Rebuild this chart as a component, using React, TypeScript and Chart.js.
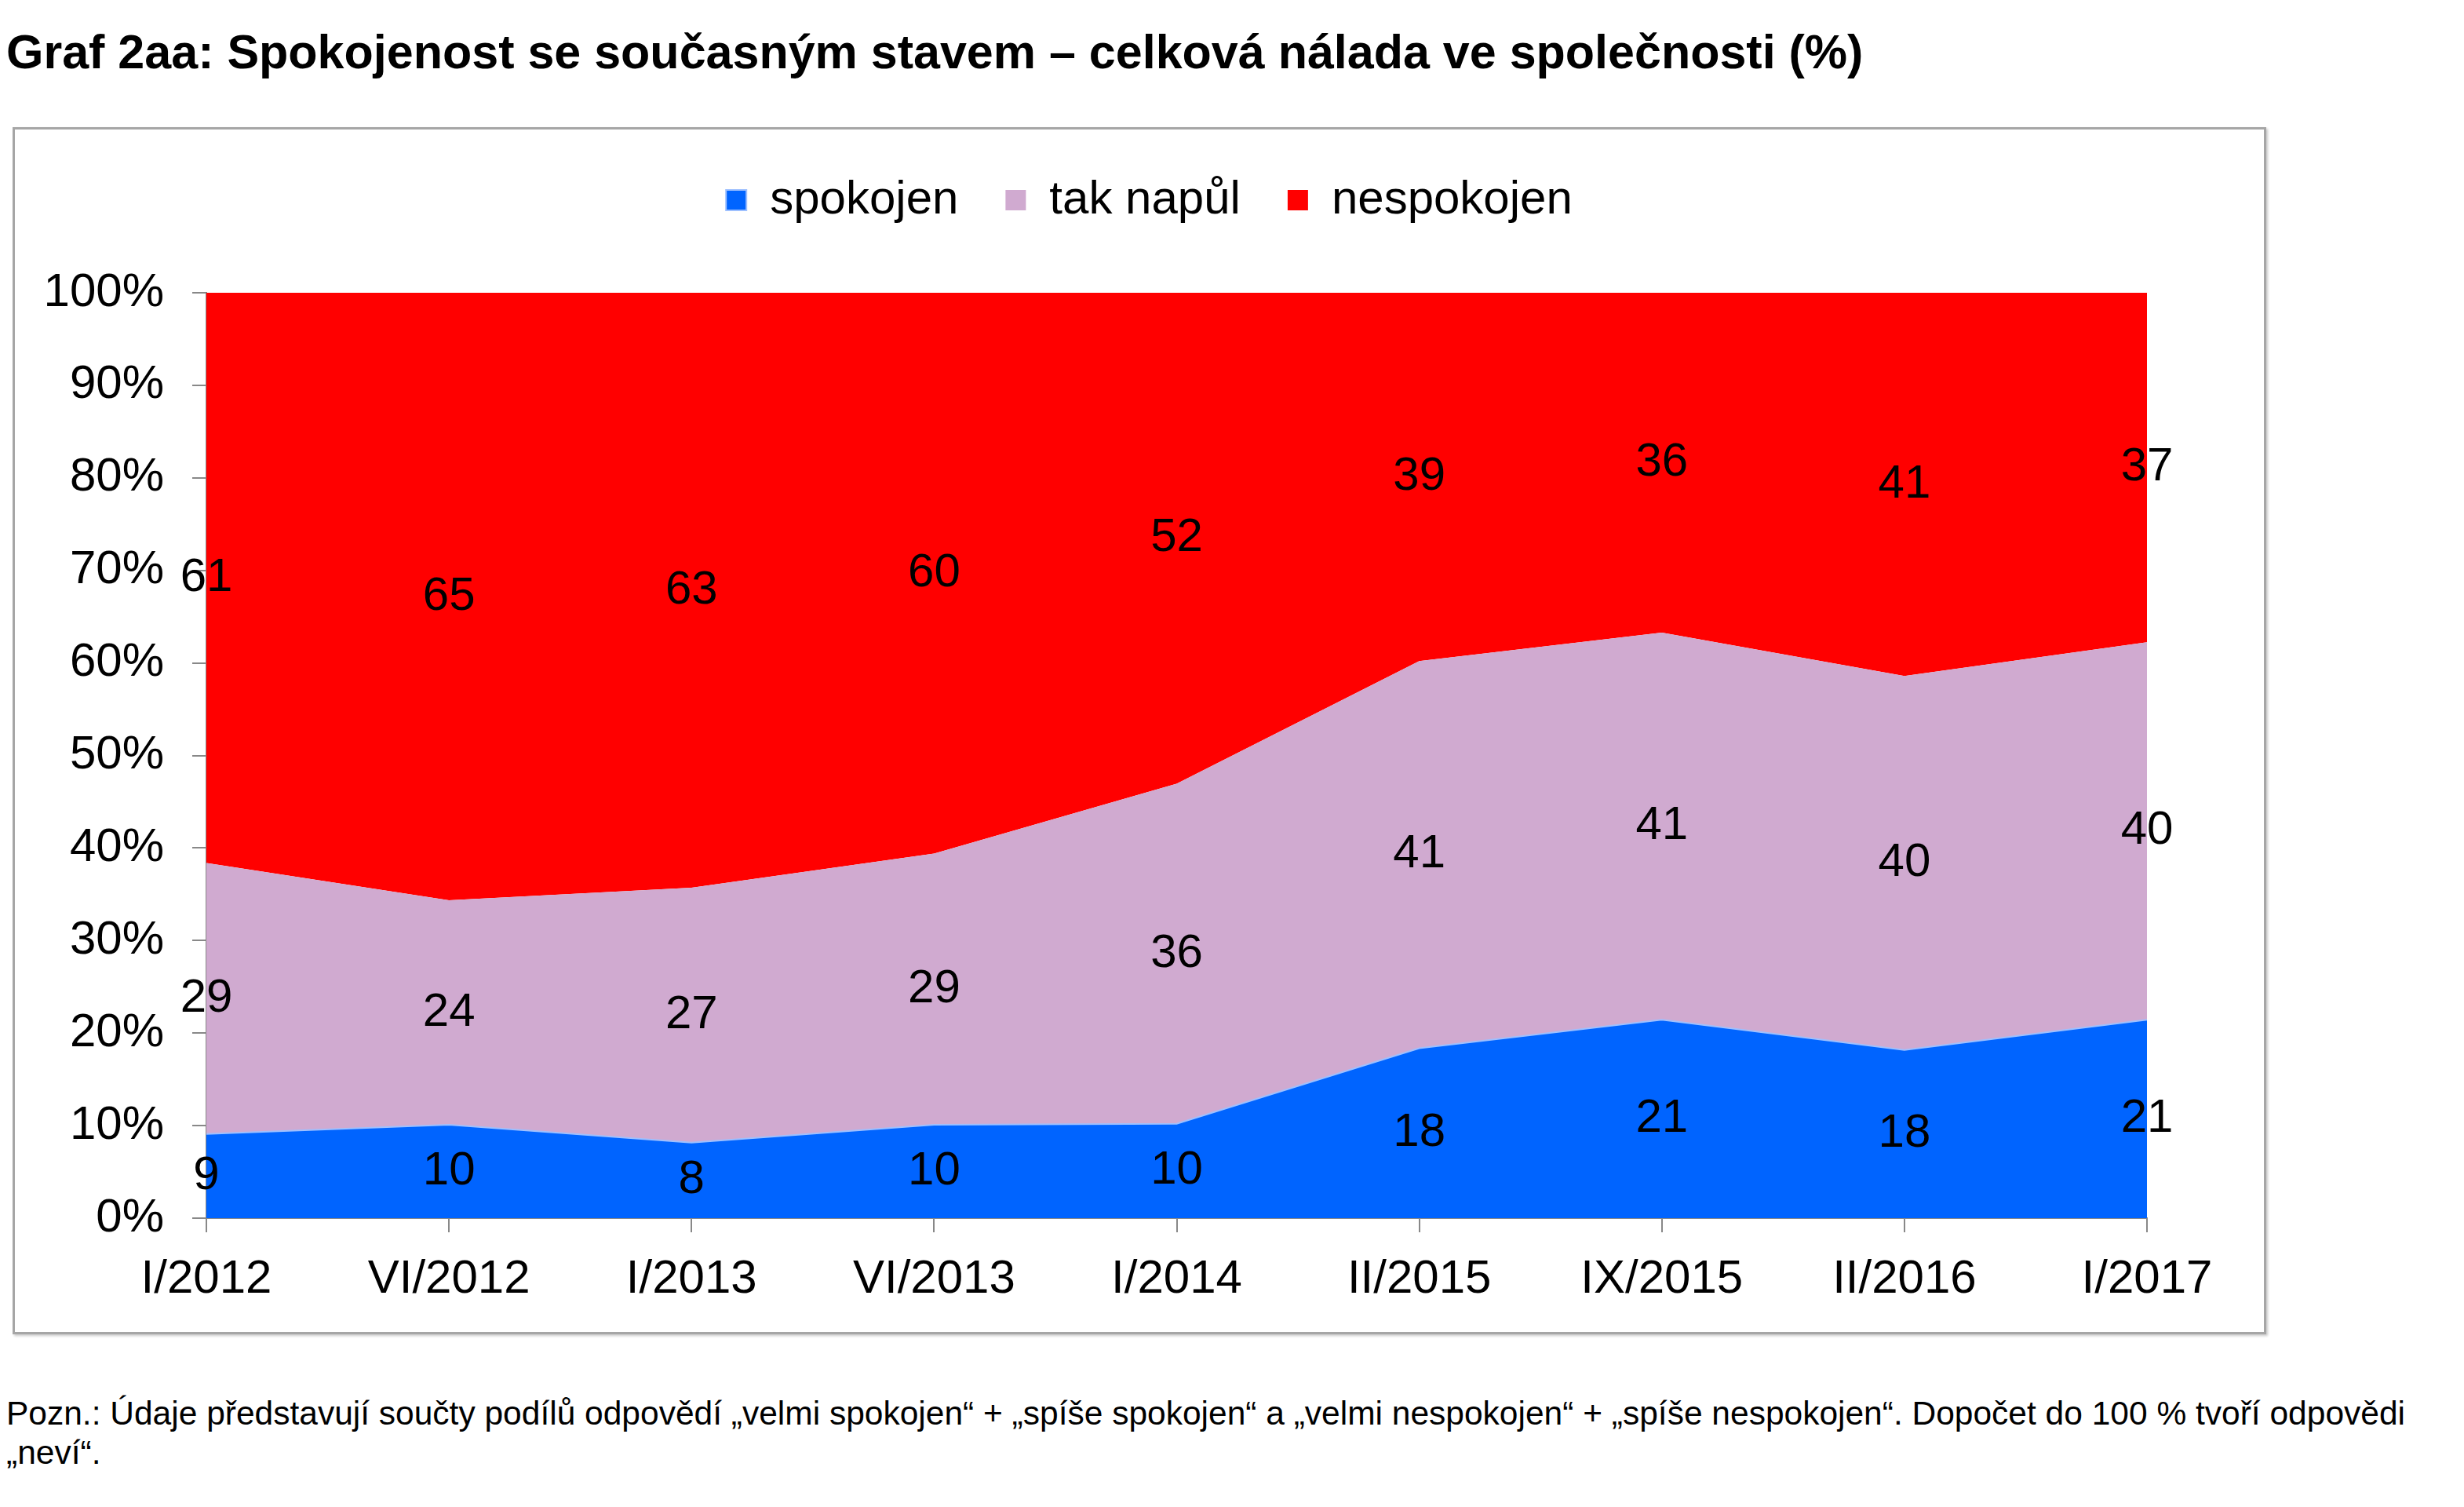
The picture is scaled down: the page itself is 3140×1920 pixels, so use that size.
import React, { useEffect, useRef } from "react";
import { Chart, registerables } from "chart.js";

Chart.register(...registerables);

const categories = ["I/2012", "VI/2012", "I/2013", "VI/2013", "I/2014", "II/2015", "IX/2015", "II/2016", "I/2017"];
const spokojen = [9, 10, 8, 10, 10, 18, 21, 18, 21];
const takNapul = [29, 24, 27, 29, 36, 41, 41, 40, 40];
const nespokojen = [61, 65, 63, 60, 52, 39, 36, 41, 37];
const seriesNames = ["spokojen", "tak napůl", "nespokojen"];
const seriesColors = ["#0064FF", "#D0AAD0", "#FF0000"];
const yTicks = [0, 10, 20, 30, 40, 50, 60, 70, 80, 90, 100];

const TITLE = "Graf 2aa: Spokojenost se současným stavem – celková nálada ve společnosti (%)";
const NOTE1 = "Pozn.: Údaje představují součty podílů odpovědí „velmi spokojen“ + „spíše spokojen“ a „velmi nespokojen“ + „spíše nespokojen“. Dopočet do 100 % tvoří odpovědi";
const NOTE2 = "„neví“.";

const FONT = '"Liberation Sans", Arial, sans-serif';

const raw = [spokojen, takNapul, nespokojen];
const totals = categories.map((_, i) => raw.reduce((s, arr) => s + arr[i], 0));
const shares = raw.map((arr) => arr.map((v, i) => (v / totals[i]) * 100));

const bandLabels = {
  id: "bandLabels",
  afterDatasetsDraw(chart: any) {
    const { ctx, scales } = chart;
    const x = scales.x;
    const y = scales.y;
    ctx.save();
    ctx.font = `60px ${FONT}`;
    ctx.fillStyle = "#000";
    ctx.textAlign = "center";
    ctx.textBaseline = "middle";
    categories.forEach((_, i) => {
      let base = 0;
      raw.forEach((arr, si) => {
        const pct = shares[si][i];
        const yMid = y.getPixelForValue(base + pct / 2);
        ctx.fillText(String(arr[i]), x.getPixelForValue(i), yMid);
        base += pct;
      });
    });
    ctx.restore();
  },
};

const legendTweak = {
  id: "legendTweak",
  beforeInit(chart: any) {
    const lg = chart.legend;
    if (!lg) return;
    const orig = lg.fit;
    lg.fit = function () {
      orig.call(this);
      this.height += 78;
    };
  },
  afterLayout(chart: any) {
    const lg = chart.legend;
    if (!lg) return;
    lg.left += 87;
    lg.right += 87;
  },
};

function AreaChart() {
  const ref = useRef<HTMLCanvasElement | null>(null);
  useEffect(() => {
    if (!ref.current) return;
    const chart = new Chart(ref.current, {
      type: "line",
      data: {
        labels: categories,
        datasets: raw.map((_, si) => ({
          label: seriesNames[si],
          data: shares[si],
          backgroundColor: seriesColors[si],
          borderColor: si === 0 ? "#9EC0FF" : seriesColors[si],
          borderWidth: si === 0 ? 2 : 0,
          pointRadius: 0,
          tension: 0,
          fill: si === 0 ? "origin" : "-1",
        })),
      },
      options: {
        animation: false,
        responsive: false,
        layout: { padding: { top: 0, right: 149, bottom: 0, left: 0 } },
        plugins: {
          legend: {
            display: true,
            position: "top",
            labels: {
              font: { family: FONT, size: 60 },
              color: "#000",
              boxWidth: 26,
              boxHeight: 26,
              padding: 60,
            },
          },
          tooltip: { enabled: false },
        },
        scales: {
          x: {
            type: "category",
            offset: false,
            grid: { display: true, drawOnChartArea: false, drawTicks: true, tickLength: 18, color: "#888", lineWidth: 2 },
            border: { display: true, color: "#888", width: 2 },
            ticks: { font: { family: FONT, size: 60 }, color: "#000", padding: 24, maxRotation: 0, autoSkip: false },
            afterFit: (s: any) => { s.height = 145; },
          },
          y: {
            stacked: true,
            min: 0,
            max: 100,
            afterBuildTicks: (s: any) => { s.ticks = yTicks.map((v) => ({ value: v })); },
            grid: { display: true, drawOnChartArea: false, drawTicks: true, tickLength: 18, color: "#888", lineWidth: 2 },
            border: { display: true, color: "#888", width: 2 },
            ticks: { font: { family: FONT, size: 60 }, color: "#000", padding: 36, callback: (v: any) => `${v}%` },
            afterFit: (s: any) => { s.width = 244; },
          },
        },
      },
      plugins: [legendTweak, bandLabels],
    });
    return () => chart.destroy();
  }, []);
  return <canvas ref={ref} width={2866} height={1532} style={{ display: "block" }} />;
}

export default function App() {
  return (
    <div style={{ position: "absolute", left: 0, top: 0, width: 3140, height: 1920, background: "#fff" }}>
      <div style={{ position: "absolute", left: 8, top: 28, fontFamily: FONT, fontWeight: "bold", fontSize: 61, lineHeight: "76px", whiteSpace: "nowrap", color: "#000" }}>
        {TITLE}
      </div>
      <div style={{ position: "absolute", left: 16, top: 162, width: 2866, height: 1532, border: "3px solid #a6a6a6", boxShadow: "2px 2px 3px #c8c8c8" }}>
        <AreaChart />
      </div>
      <div style={{ position: "absolute", left: 8, top: 1776, fontFamily: FONT, fontSize: 42.5, lineHeight: "50px", whiteSpace: "nowrap", color: "#000" }}>
        {NOTE1}
        <br />
        {NOTE2}
      </div>
    </div>
  );
}
